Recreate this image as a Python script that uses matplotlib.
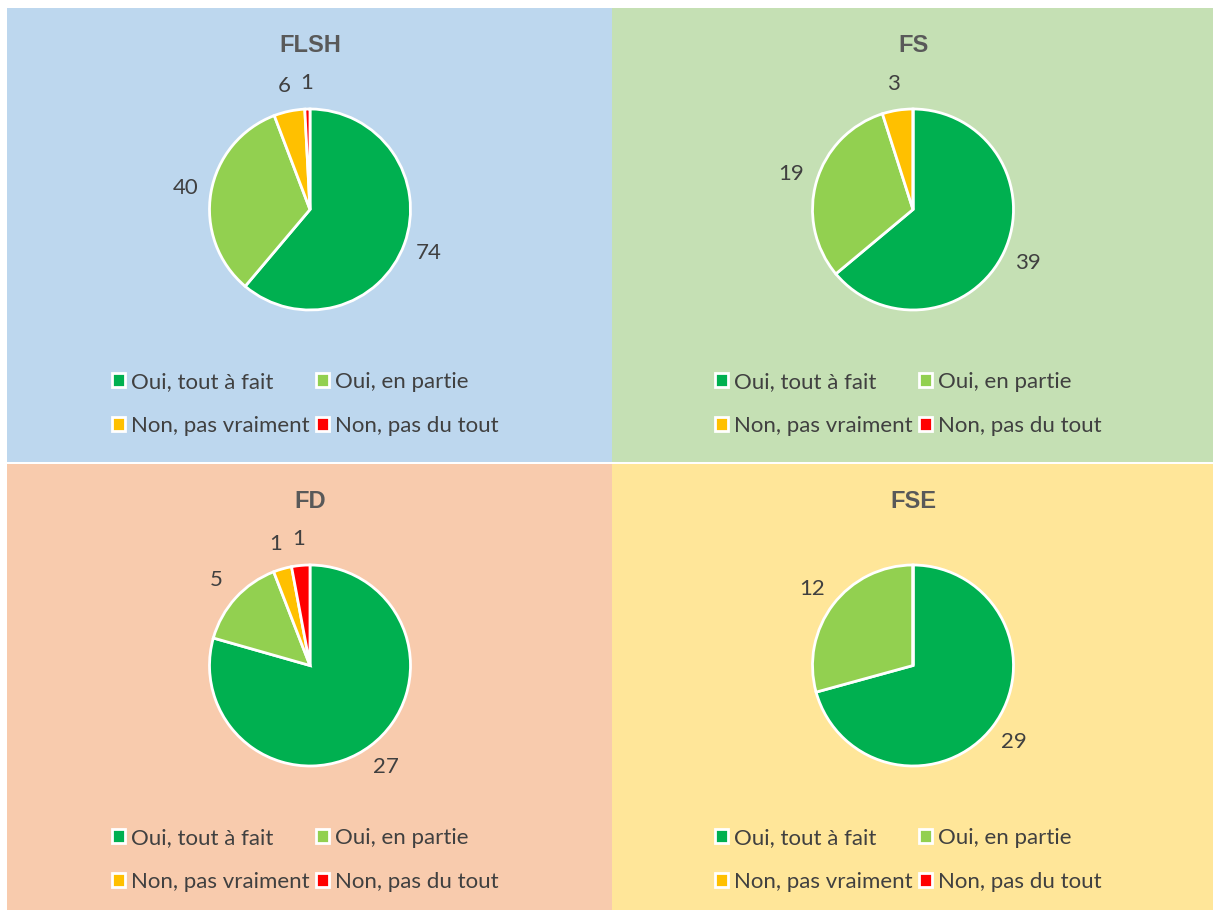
import matplotlib.pyplot as plt
from matplotlib.patches import Rectangle

# Data
categories = ['Oui, tout à fait', 'Oui, en partie', 'Non, pas vraiment', 'Non, pas du tout']
colors = ['#00B050', '#92D050', '#FFC000', '#FF0000']
flsh = [74, 40, 6, 1]
fs = [39, 19, 3, 0]
fd = [27, 5, 1, 1]
fse = [29, 12, 0, 0]

panels = [
    ('FLSH', flsh, '#BDD7EE'),
    ('FS', fs, '#C5E0B4'),
    ('FD', fd, '#F8CBAD'),
    ('FSE', fse, '#FFE699'),
]

W, H = 1213, 910
fig = plt.figure(figsize=(W / 100, H / 100), dpi=100)
fig.patch.set_facecolor('white')

text_col = '#404040'
# panel boxes in pixel coords: x0, y0(top), x1, y1(bottom)
boxes = [(7, 8, 612, 462), (612, 8, 1213, 462), (7, 464, 612, 910), (612, 464, 1213, 910)]
r = 102.5
order = [0, 2, 1, 3]  # legend is filled column-wise, reference reads row-wise

for (name, vals, bg), (x0, y0, x1, y1) in zip(panels, boxes):
    fig.patches.append(Rectangle((x0 / W, 1 - y1 / H), (x1 - x0) / W, (y1 - y0) / H,
                                 transform=fig.transFigure, facecolor=bg, edgecolor='none',
                                 zorder=-5))
    cx = (x0 + x1) / 2 + 0.5
    cy = y0 + 201.5
    ax = fig.add_axes([(cx - r) / W, 1 - (cy + r) / H, 2 * r / W, 2 * r / H])
    ax.set_zorder(2)
    labels = [str(v) if v > 0 else '' for v in vals]
    wedges, texts = ax.pie(vals, colors=colors, labels=labels, startangle=90, counterclock=False,
                           labeldistance=1.26, radius=1,
                           wedgeprops=dict(edgecolor='white', linewidth=2),
                           textprops=dict(fontsize=16, color=text_col, family='Lato'))
    for t in texts:
        t.set_ha('center')
        t.set_va('center')
    ax.set_xlim(-1.02, 1.02)
    ax.set_ylim(-1.02, 1.02)
    fig.text(cx / W, 1 - (y0 + 37) / H, name, ha='center', va='center', fontsize=17,
             fontweight='bold', color='#595959', family='Liberation Sans')
    leg = fig.legend([wedges[i] for i in order], [categories[i] for i in order], ncol=2,
                     loc='center', bbox_to_anchor=(cx / W - 5 / W, 1 - (y0 + 396) / H),
                     frameon=False, handlelength=0.6, handleheight=0.6,
                     handletextpad=0.25, columnspacing=0.3, labelspacing=1.1,
                     prop=dict(family='Lato', size=16))
    leg.set_zorder(3)
    for t in leg.get_texts():
        t.set_color(text_col)

fig.savefig('out.png', dpi=100)
